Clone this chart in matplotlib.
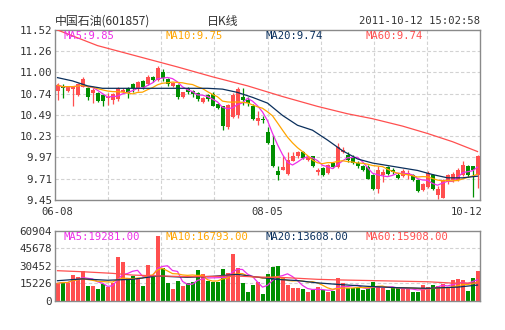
import numpy as np
import pandas as pd
import matplotlib
matplotlib.use("Agg")
import matplotlib.pyplot as plt

# daily K-line for 601857, 2011-06-08 .. 2011-10-12 (85 trading days)
opens = [10.78, 10.83, 10.78, 10.80, 10.73, 10.83, 10.81, 10.75, 10.75, 10.73,
         10.69, 10.67, 10.68, 10.77, 10.81, 10.86, 10.81, 10.90, 10.86, 10.95,
         10.91, 11.01, 10.92, 10.84, 10.85, 10.70, 10.81, 10.78, 10.75, 10.64,
         10.73, 10.74, 10.62, 10.59, 10.34, 10.46, 10.49, 10.71, 10.67, 10.60,
         10.41, 10.44, 10.28, 10.12, 9.80, 9.82, 9.77, 9.93, 9.98, 10.04,
         9.94, 9.98, 9.79, 9.84, 9.78, 9.90, 9.85, 10.04, 10.00, 9.96,
         9.90, 9.87, 9.85, 9.76, 9.59, 9.75, 9.85, 9.82, 9.76, 9.74,
         9.75, 9.75, 9.69, 9.57, 9.61, 9.75, 9.51, 9.48, 9.67, 9.69,
         9.69, 9.75, 9.86, 9.86, 9.75]
closes = [10.85, 10.81, 10.83, 10.83, 10.86, 10.92, 10.71, 10.79, 10.65, 10.66,
          10.71, 10.74, 10.81, 10.79, 10.75, 10.81, 10.89, 10.82, 10.95, 10.91,
          11.06, 10.93, 10.86, 10.88, 10.71, 10.76, 10.76, 10.74, 10.68, 10.69,
          10.68, 10.60, 10.57, 10.35, 10.61, 10.73, 10.80, 10.67, 10.63, 10.44,
          10.45, 10.42, 10.14, 9.86, 9.75, 9.85, 9.94, 9.98, 10.04, 9.96,
          9.97, 9.86, 9.82, 9.75, 9.88, 9.85, 10.09, 10.06, 9.94, 9.90,
          9.86, 9.82, 9.71, 9.59, 9.81, 9.79, 9.77, 9.79, 9.72, 9.80,
          9.78, 9.69, 9.56, 9.64, 9.78, 9.59, 9.58, 9.69, 9.75, 9.77,
          9.82, 9.88, 9.75, 9.81, 9.99]
highs = [10.87, 10.86, 10.84, 10.84, 10.87, 10.95, 10.82, 10.81, 10.76, 10.74,
         10.75, 10.75, 10.82, 10.81, 10.82, 10.88, 10.90, 10.91, 10.97, 10.96,
         11.08, 11.04, 10.93, 10.89, 10.86, 10.77, 10.82, 10.79, 10.76, 10.70,
         10.74, 10.76, 10.63, 10.60, 10.62, 10.75, 10.82, 10.81, 10.70, 10.62,
         10.53, 10.47, 10.34, 10.24, 9.86, 9.99, 10.03, 10.04, 10.05, 10.05,
         9.99, 9.99, 9.84, 9.85, 9.89, 9.91, 10.14, 10.09, 10.04, 10.00,
         9.92, 9.88, 9.88, 9.77, 9.86, 9.83, 9.87, 9.84, 9.78, 9.83,
         9.81, 9.77, 9.70, 9.66, 9.80, 9.77, 9.62, 9.71, 9.77, 9.79,
         9.84, 9.92, 9.88, 9.87, 10.00]
lows = [10.67, 10.69, 10.77, 10.59, 10.72, 10.82, 10.67, 10.63, 10.64, 10.60,
        10.61, 10.62, 10.66, 10.75, 10.69, 10.76, 10.78, 10.80, 10.85, 10.89,
        10.90, 10.90, 10.84, 10.83, 10.68, 10.69, 10.74, 10.71, 10.65, 10.63,
        10.66, 10.59, 10.56, 10.30, 10.32, 10.45, 10.45, 10.61, 10.60, 10.43,
        10.36, 10.39, 10.13, 9.85, 9.69, 9.81, 9.76, 9.92, 9.96, 9.95,
        9.93, 9.85, 9.75, 9.74, 9.77, 9.84, 9.84, 10.02, 9.91, 9.89,
        9.84, 9.80, 9.70, 9.57, 9.54, 9.67, 9.75, 9.77, 9.71, 9.73,
        9.70, 9.68, 9.55, 9.56, 9.60, 9.57, 9.46, 9.47, 9.65, 9.67,
        9.68, 9.74, 9.73, 9.49, 9.60]
volumes = [15100, 16500, 15700, 22300, 20900, 25800, 12800, 12800, 10200, 14500,
           12200, 15100, 38000, 33600, 19400, 21800, 19400, 12800, 31000, 20900,
           56300, 28100, 15700, 10200, 17100, 12800, 15700, 16000, 26700, 23200,
           17100, 16500, 16500, 27600, 23800, 40600, 28100, 15700, 7500, 13600,
           16500, 5800, 23200, 29000, 30200, 20900, 13600, 11300, 10700, 10200,
           7300, 9300, 12200, 9300, 7300, 8400, 20000, 15100, 10700, 10700,
           11300, 9300, 10700, 16000, 12800, 10700, 9300, 11300, 11600, 10200,
           10200, 7300, 7300, 13600, 12200, 13600, 13100, 14500, 10700, 18000,
           18900, 18000, 8400, 20000, 25800]

ma20_idx = [0, 3, 6, 9, 15, 20, 25, 30, 33, 36, 39, 42, 45, 48, 51, 54, 57,
            60, 63, 66, 69, 72, 75, 78, 81, 84]
ma20_vals = [10.94, 10.90, 10.84, 10.81, 10.81, 10.81, 10.81, 10.81, 10.80,
             10.76, 10.70, 10.63, 10.48, 10.36, 10.30, 10.18, 10.05, 9.95,
             9.90, 9.87, 9.84, 9.81, 9.76, 9.72, 9.72, 9.74]
ma60_idx = [0, 8, 16, 24, 31, 38, 45, 52, 58, 63, 69, 74, 79, 84]
ma60_vals = [11.52, 11.33, 11.20, 11.07, 10.95, 10.84, 10.71, 10.59, 10.50,
             10.44, 10.35, 10.26, 10.16, 10.04]
vol_ma20_idx = [0, 5, 10, 15, 20, 26, 31, 36, 40, 44, 48, 52, 56, 62, 68, 74, 80, 84]
vol_ma20_vals = [17400, 19000, 17800, 18600, 21500, 20300, 21200, 22900, 20500,
                 18500, 17500, 15500, 14200, 12500, 11300, 10800, 11800, 13600]
vol_ma60_idx = [0, 5, 11, 15, 20, 26, 36, 40, 45, 52, 56, 64, 74, 79, 84]
vol_ma60_vals = [26100, 25200, 23800, 22300, 21600, 20900, 21400, 20600, 20200,
                 18600, 18100, 17400, 16500, 15300, 15400]

price_ticks = ["9.45", "9.71", "9.97", "10.23", "10.49", "10.74", "11.00", "11.26", "11.52"]
vol_ticks = ["0", "15226", "30452", "45678", "60904"]
date_labels = ["06-08", "08-05", "10-12"]
date_pos = [0, 42, 84]
price_ma_labels = ["MA5:9.85", "MA10:9.75", "MA20:9.74", "MA60:9.74"]
vol_ma_labels = ["MA5:19281.00", "MA10:16793.00", "MA20:13608.00", "MA60:15908.00"]

RED = "#ff4f4f"
GREEN = "#008f00"
MA_COLORS = ["#ee2ee8", "#ffa500", "#0a2f5c", "#ff4f4f"]
GRID = "#d2d2d2"

plt.rcParams["font.family"] = ["DejaVu Sans Mono"]
cjk = ["Noto Sans CJK SC", "DejaVu Sans"]

n = len(closes)
x = np.arange(n)
o = np.array(opens)
c = np.array(closes)
up = c >= o
colors = [RED if u else GREEN for u in up]

fig = plt.figure(figsize=(5.05, 3.30), dpi=100)
ax = fig.add_axes([55 / 505, 130 / 330, 425 / 505, 170 / 330])
axv = fig.add_axes([55 / 505, 29.3 / 330, 425 / 505, 70 / 330])


def style(a, lo, hi, labels):
    a.set_xlim(-0.5, n - 0.5)
    a.set_ylim(lo, hi)
    pos = np.linspace(lo, hi, len(labels))
    a.set_yticks(pos)
    a.set_yticklabels(labels)
    a.set_xticks([])
    a.tick_params(axis="y", length=0, pad=2, labelsize=7.8, labelcolor="#333333")
    for p in pos[1:-1]:
        a.axhline(p, color=GRID, lw=0.8, ls=(0, (3, 2)), zorder=0)
    for k in range(1, 8):
        a.axvline(-0.5 + n * k / 8, color=GRID, lw=0.8, ls=(0, (3, 2)), zorder=0)
    for s in a.spines.values():
        s.set_color("#8a8a8a")
        s.set_linewidth(1.0)


style(ax, 9.45, 11.52, price_ticks)
style(axv, 0, 60904, vol_ticks)

# candles
body_lo = np.minimum(o, c)
body_h = np.maximum(np.abs(c - o), 0.008)
ax.vlines(x, lows, highs, colors=colors, lw=0.9, zorder=2)
ax.bar(x, body_h, bottom=body_lo, width=0.8, color=colors, zorder=3)

ma5 = pd.Series(closes).rolling(5, min_periods=1).mean()
ma10 = pd.Series(closes).rolling(10, min_periods=1).mean()
ax.plot(x, ma5, color=MA_COLORS[0], lw=0.9, zorder=4)
ax.plot(x, ma10, color=MA_COLORS[1], lw=0.9, zorder=4)
ax.plot(ma20_idx, ma20_vals, color=MA_COLORS[2], lw=0.9, zorder=4)
ax.plot(ma60_idx, ma60_vals, color=MA_COLORS[3], lw=0.9, zorder=4)

# volume
axv.bar(x, volumes, width=0.8, color=colors, zorder=2)
vma5 = pd.Series(volumes).rolling(5, min_periods=1).mean()
vma10 = pd.Series(volumes).rolling(10, min_periods=1).mean()
axv.plot(x, vma5, color=MA_COLORS[0], lw=0.9, zorder=3)
axv.plot(x, vma10, color=MA_COLORS[1], lw=0.9, zorder=3)
axv.plot(vol_ma20_idx, vol_ma20_vals, color=MA_COLORS[2], lw=0.9, zorder=3)
axv.plot(vol_ma60_idx, vol_ma60_vals, color=MA_COLORS[3], lw=0.9, zorder=3)

# MA legends
lab_x = [9 / 425, 110 / 425, 210 / 425, 310 / 425]
for lx, t, col in zip(lab_x, price_ma_labels, MA_COLORS):
    ax.text(lx, 0.965, t, transform=ax.transAxes, color=col, fontsize=7.6,
            va="center", ha="left", zorder=5)
for lx, t, col in zip(lab_x, vol_ma_labels, MA_COLORS):
    axv.text(lx, 0.91, t, transform=axv.transAxes, color=col, fontsize=7.6,
             va="center", ha="left", zorder=5)

# date labels under the price panel
for p, t in zip(date_pos, date_labels):
    ha = "right" if p == n - 1 else "center"
    xp = p + 1.1 if p == n - 1 else p
    ax.text(xp, 9.45 - 0.15, t, color="#333333", fontsize=7.6, ha=ha, va="center")

# header
fig.text(55 / 505, 1 - 21 / 330, "中国石油(601857)", family=cjk, fontsize=8.6,
         color="#333333", ha="left", va="center")
fig.text(207 / 505, 1 - 21 / 330, "日K线", family=cjk, fontsize=8.6,
         color="#333333", ha="left", va="center")
fig.text(480 / 505, 1 - 21 / 330, "2011-10-12 15:02:58", fontsize=7.6,
         color="#333333", ha="right", va="center")

fig.savefig("out.png", dpi=100)
